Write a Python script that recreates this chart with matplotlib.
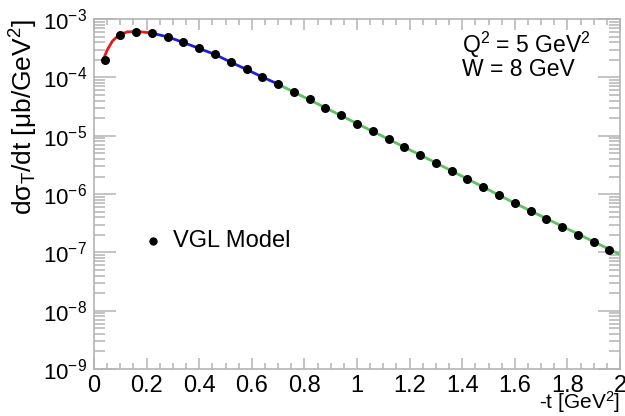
import matplotlib
matplotlib.use("Agg")
from matplotlib import pyplot as plt
from matplotlib.ticker import LogLocator, MultipleLocator, NullFormatter
import numpy as np

plt.rcParams['font.family'] = ['Liberation Sans', 'DejaVu Sans']
plt.rcParams['mathtext.fontset'] = 'custom'
plt.rcParams['mathtext.rm'] = 'Liberation Sans'
plt.rcParams['mathtext.it'] = 'Liberation Sans'

# VGL model points
t_pts = [0.04, 0.10, 0.16, 0.22, 0.28, 0.34, 0.40, 0.46, 0.52, 0.58, 0.64,
         0.70, 0.76, 0.82, 0.88, 0.94, 1.00, 1.06, 1.12, 1.18, 1.24, 1.30,
         1.36, 1.42, 1.48, 1.54, 1.60, 1.66, 1.72, 1.78, 1.84, 1.90, 1.96]
xs_pts = [1.98e-4, 5.32e-4, 6.06e-4, 5.75e-4, 4.97e-4, 3.98e-4, 3.14e-4,
          2.48e-4, 1.83e-4, 1.37e-4, 1.02e-4, 7.67e-5, 5.66e-5, 4.20e-5,
          3.05e-5, 2.25e-5, 1.62e-5, 1.20e-5, 8.63e-6, 6.30e-6, 4.59e-6,
          3.43e-6, 2.47e-6, 1.80e-6, 1.31e-6, 9.57e-7, 6.98e-7, 5.15e-7,
          3.76e-7, 2.74e-7, 2.02e-7, 1.50e-7, 1.09e-7]

# fit curves
t_red = [0.035, 0.05, 0.07, 0.095, 0.127, 0.158, 0.19, 0.22]
y_red = [2.0e-4, 2.94e-4, 4.2e-4, 5.37e-4, 6.05e-4, 6.1e-4, 5.98e-4, 5.75e-4]
t_blue = [0.22, 0.28, 0.34, 0.40, 0.46, 0.52, 0.58, 0.64, 0.70]
y_blue = [5.75e-4, 4.97e-4, 3.98e-4, 3.14e-4, 2.48e-4, 1.83e-4, 1.37e-4, 1.02e-4, 7.67e-5]
t_green = [0.70, 1.00, 1.30, 1.60, 2.00]
y_green = [7.67e-5, 1.62e-5, 3.43e-6, 6.98e-7, 9.2e-8]

xticks = [0, 0.2, 0.4, 0.6, 0.8, 1.0, 1.2, 1.4, 1.6, 1.8, 2.0]
xticklabels = ['0', '0.2', '0.4', '0.6', '0.8', '1', '1.2', '1.4', '1.6', '1.8', '2']

fig = plt.figure(figsize=(6.25, 4.16), dpi=100)
ax = fig.add_axes([0.1504, 0.113, 0.8416, 0.841])

ax.plot(t_red, y_red, color='#e8191c', lw=2)
ax.plot(t_blue, y_blue, color='#1f1fd6', lw=2)
ax.plot(t_green, y_green, color='#5cc45c', lw=2)
ax.plot(t_pts, xs_pts, 'o', color='black', ms=6.5, mew=0, zorder=5)

ax.set_yscale('log')
ax.set_xlim(0, 2)
ax.set_ylim(1e-9, 1e-3)

ax.xaxis.set_minor_locator(MultipleLocator(0.05))
ax.set_xticks(xticks)
ax.set_xticklabels(xticklabels)
ax.yaxis.set_major_locator(LogLocator(base=10, numticks=20))
ax.yaxis.set_minor_locator(LogLocator(base=10, subs=np.arange(2, 10), numticks=20))
ax.yaxis.set_minor_formatter(NullFormatter())

gray = '#b4b4b4'
for s in ax.spines.values():
    s.set_color(gray)
    s.set_linewidth(1.2)
ax.tick_params(which='both', direction='in', top=True, right=True, color=gray, width=1.1)
ax.tick_params(axis='x', which='major', length=8, pad=4, labelsize=17)
ax.tick_params(axis='x', which='minor', length=4)
ax.tick_params(axis='y', which='major', length=16, pad=5, labelsize=16)
ax.tick_params(axis='y', which='minor', length=8)

fig.text(0.992, 0.002, '-t [GeV$^{2}$]', fontsize=15, ha='right', va='bottom')
fig.text(0.038, 0.954, 'dσ$_{\\mathrm{T}}$/dt [μb/GeV$^{2}$]', fontsize=19, rotation=90,
         ha='center', va='top')

ax.text(0.70, 0.903, 'Q$^{2}$ = 5 GeV$^{2}$', transform=ax.transAxes, fontsize=16.5,
        va='baseline', ha='left')
ax.text(0.70, 0.837, 'W = 8 GeV', transform=ax.transAxes, fontsize=16.5,
        va='baseline', ha='left')

ax.plot([0.224], [1.55e-7], 'o', color='black', ms=6, mew=0)
ax.text(0.30, 1.55e-7, 'VGL Model', fontsize=17, va='center', ha='left')

fig.savefig('out.png', dpi=100)
